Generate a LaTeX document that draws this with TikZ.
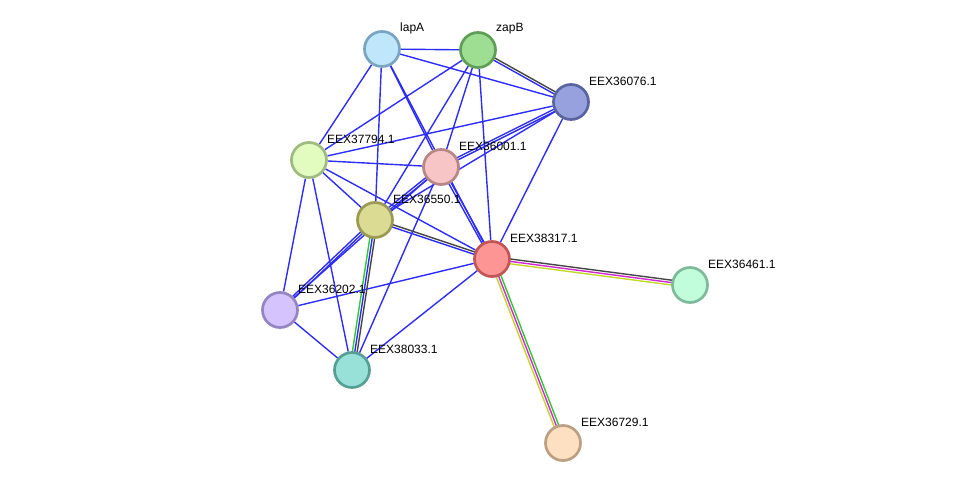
\documentclass[tikz,border=0pt]{standalone}
\usepackage{fontspec}
\setmainfont{Liberation Sans}
\usetikzlibrary{calc}
\pgfdeclarelayer{bg}
\pgfsetlayers{bg,main}

\definecolor{evblue}{RGB}{45,45,250}
\definecolor{evgrey}{RGB}{70,70,70}
\definecolor{evmag}{RGB}{210,40,210}
\definecolor{evyel}{RGB}{195,215,40}
\definecolor{evgreen}{RGB}{50,200,50}

% protein: name, x, y, fill, border, label
\newcommand{\prot}[6]{%
  \node[prot,fill={rgb,255:#4},draw={rgb,255:#5}] (#1) at (#2,#3) {};
  \node[lbl] (#1-l) at ($(#1)+(18,-21)$) {#6};}
% parallel evidence lines: from, to, colour/offset list
\newcommand{\multiedge}[3]{%
  \foreach \c/\o in {#3}
    \draw[edge,\c] ($(#1.center)!\o pt!90:(#2.center)$) -- ($(#2.center)!\o pt!-90:(#1.center)$);}

\begin{document}
\begin{tikzpicture}[x=1pt,y=-1pt,
  prot/.style={circle,line width=2.7pt,minimum size=35pt,inner sep=0pt},
  lbl/.style={anchor=west,font=\fontsize{12}{12}\selectfont,inner sep=0pt},
  edge/.style={line width=1.4pt}]
  \useasboundingbox (0,0) rectangle (975,489);
  \prot{lapA}{382}{49}{red,192;green,230;blue,251}{red,122;green,165;blue,192}{lapA}
  \prot{zapB}{478}{50}{red,158;green,222;blue,146}{red,94;green,158;blue,86}{zapB}
  \prot{n36076}{571}{102}{red,151;green,161;blue,222}{red,90;green,100;blue,160}{EEX36076.1}
  \prot{n37794}{309}{160}{red,226;green,252;blue,192}{red,160;green,187;blue,128}{EEX37794.1}
  \prot{n36001}{441}{167}{red,247;green,197;blue,197}{red,184;green,134;blue,134}{EEX36001.1}
  \prot{n36550}{375}{220}{red,220;green,219;blue,148}{red,155;green,154;blue,85}{EEX36550.1}
  \prot{n38317}{492}{259}{red,254;green,149;blue,149}{red,192;green,86;blue,86}{EEX38317.1}
  \prot{n36461}{690}{285}{red,193;green,252;blue,219}{red,127;green,187;blue,154}{EEX36461.1}
  \prot{n36202}{280}{310}{red,212;green,195;blue,252}{red,149;green,133;blue,192}{EEX36202.1}
  \prot{n38033}{352}{370}{red,151;green,225;blue,216}{red,87;green,158;blue,149}{EEX38033.1}
  \prot{n36729}{563}{443}{red,253;green,224;blue,194}{red,188;green,160;blue,131}{EEX36729.1}
  \begin{pgfonlayer}{bg}
    \foreach \a/\b in {lapA/zapB,lapA/n36076,lapA/n37794,lapA/n36550,lapA/n36001,lapA/n38317,
      zapB/n37794,zapB/n36550,zapB/n36001,zapB/n38317,n36076/n37794,n36076/n36550,n36076/n38317,
      n37794/n36001,n37794/n36550,n37794/n38317,n37794/n36202,n37794/n38033,n36001/n38033,
      n36202/n36001,n38317/n36202,n38317/n38033,n36202/n38033}
      \draw[edge,evblue] (\a) -- (\b);
    \multiedge{zapB}{n36076}{evblue/-1.2,evgrey/1.2}
    \multiedge{n36076}{n36001}{evblue/-1.2,evblue/1.2}
    \multiedge{n36001}{n36550}{evblue/-1.2,evblue/1.2}
    \multiedge{n36001}{n38317}{evblue/-1.2,evblue/1.2}
    \multiedge{n36202}{n36550}{evblue/-1.2,evblue/1.2}
    \multiedge{n36550}{n38317}{evgrey/1.2,evblue/-1.2}
    \multiedge{n36550}{n38033}{evgreen/-2.4,evblue/0,evgrey/2.4}
    \multiedge{n38317}{n36461}{evgrey/2.4,evmag/0,evyel/-2.4}
    \multiedge{n38317}{n36729}{evyel/-2.4,evmag/0,evgreen/2.4}
  \end{pgfonlayer}
\end{tikzpicture}
\end{document}
